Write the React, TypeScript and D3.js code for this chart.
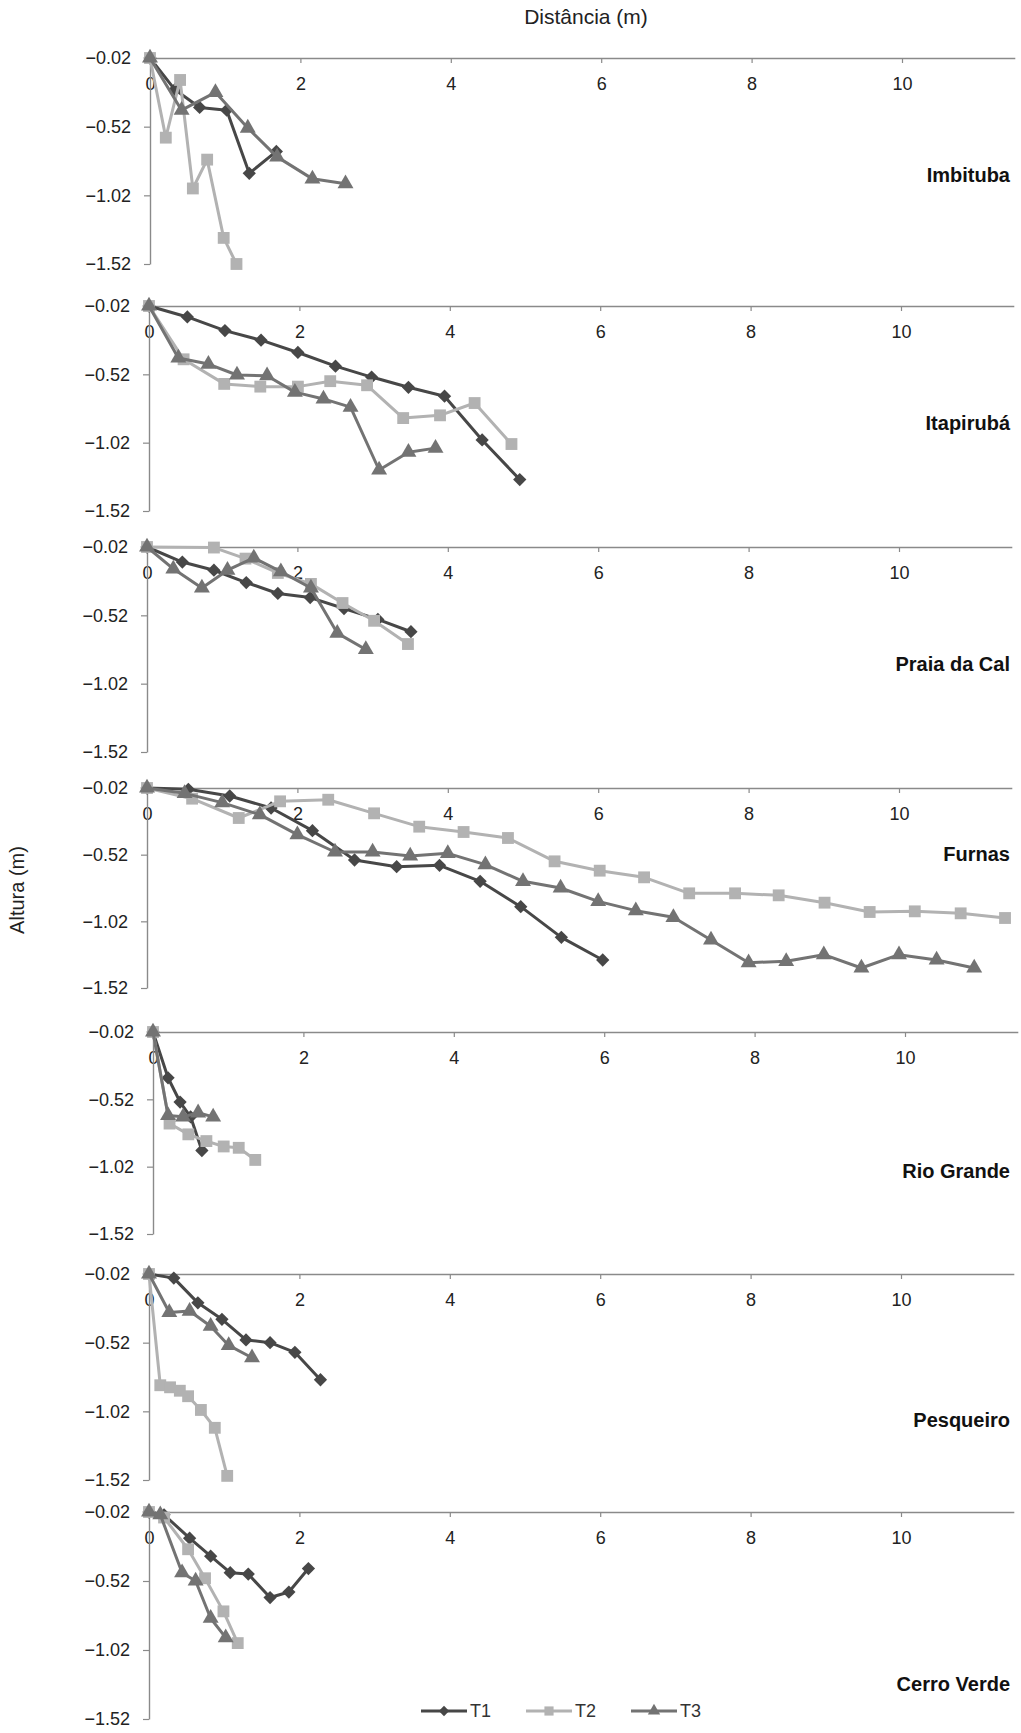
import { useRef, useEffect } from 'react';
import * as d3 from 'd3';

type Pt = [number, number];

const sites = ["Imbituba", "Itapirubá", "Praia da Cal", "Furnas", "Rio Grande", "Pesqueiro", "Cerro Verde"];
const seriesNames = ["T1", "T2", "T3"];
const xTicks = [0, 2, 4, 6, 8, 10];
const yTicks = [-0.02, -0.52, -1.02, -1.52];

// [distância, altura]
const imbitubaT1: Pt[] = [[0, -0.02], [0.33, -0.25], [0.66, -0.38], [1.02, -0.4], [1.32, -0.86], [1.68, -0.7]];
const imbitubaT2: Pt[] = [[0, -0.02], [0.21, -0.6], [0.4, -0.18], [0.57, -0.97], [0.76, -0.76], [0.98, -1.33], [1.15, -1.52]];
const imbitubaT3: Pt[] = [[0, -0.02], [0.42, -0.4], [0.87, -0.27], [1.3, -0.53], [1.69, -0.74], [2.16, -0.9], [2.6, -0.935]];

const itapirubaT1: Pt[] = [[0, -0.02], [0.51, -0.1], [1.01, -0.2], [1.49, -0.27], [1.98, -0.36], [2.48, -0.46], [2.96, -0.54], [3.45, -0.615], [3.93, -0.68], [4.43, -1.0], [4.93, -1.29]];
const itapirubaT2: Pt[] = [[0, -0.02], [0.46, -0.41], [1.0, -0.59], [1.48, -0.61], [1.98, -0.61], [2.41, -0.57], [2.9, -0.6], [3.38, -0.84], [3.87, -0.82], [4.33, -0.73], [4.82, -1.03]];
const itapirubaT3: Pt[] = [[0, -0.02], [0.39, -0.4], [0.79, -0.445], [1.17, -0.525], [1.57, -0.53], [1.94, -0.65], [2.32, -0.7], [2.68, -0.76], [3.06, -1.22], [3.45, -1.09], [3.81, -1.06]];

const praiaT1: Pt[] = [[0, -0.02], [0.47, -0.13], [0.89, -0.19], [1.32, -0.28], [1.74, -0.36], [2.17, -0.39], [2.62, -0.47], [3.07, -0.55], [3.51, -0.64]];
const praiaT2: Pt[] = [[0, -0.02], [0.89, -0.024], [1.31, -0.105], [1.74, -0.21], [2.18, -0.29], [2.6, -0.43], [3.02, -0.56], [3.47, -0.73]];
const praiaT3: Pt[] = [[0, -0.02], [0.35, -0.18], [0.73, -0.32], [1.07, -0.19], [1.42, -0.1], [1.78, -0.2], [2.18, -0.32], [2.53, -0.65], [2.91, -0.77]];

const furnasT1: Pt[] = [[0, -0.02], [0.55, -0.03], [1.1, -0.08], [1.65, -0.17], [2.2, -0.34], [2.76, -0.56], [3.32, -0.61], [3.89, -0.6], [4.43, -0.72], [4.97, -0.91], [5.51, -1.14], [6.06, -1.31]];
const furnasT2: Pt[] = [[0, -0.02], [0.6, -0.1], [1.22, -0.245], [1.77, -0.12], [2.41, -0.108], [3.02, -0.21], [3.62, -0.31], [4.21, -0.35], [4.8, -0.395], [5.42, -0.57], [6.02, -0.64], [6.61, -0.69], [7.21, -0.81], [7.82, -0.81], [8.4, -0.825], [9.01, -0.88], [9.61, -0.95], [10.21, -0.945], [10.82, -0.96], [11.41, -0.995]];
const furnasT3: Pt[] = [[0, -0.02], [0.5, -0.06], [1.0, -0.13], [1.5, -0.22], [2.0, -0.37], [2.5, -0.5], [3.0, -0.5], [3.5, -0.53], [4.0, -0.51], [4.5, -0.595], [5.0, -0.72], [5.5, -0.77], [6.0, -0.87], [6.5, -0.94], [7.0, -0.99], [7.5, -1.16], [8.0, -1.33], [8.5, -1.32], [9.0, -1.27], [9.5, -1.37], [10.0, -1.27], [10.5, -1.31], [11.0, -1.37]];

const rioGrandeT1: Pt[] = [[0, -0.02], [0.2, -0.36], [0.36, -0.54], [0.5, -0.65], [0.65, -0.9]];
const rioGrandeT2: Pt[] = [[0, -0.02], [0.22, -0.7], [0.47, -0.78], [0.71, -0.83], [0.94, -0.87], [1.14, -0.88], [1.36, -0.97]];
const rioGrandeT3: Pt[] = [[0, -0.02], [0.2, -0.64], [0.4, -0.65], [0.6, -0.62], [0.8, -0.65]];

const pesqueiroT1: Pt[] = [[0, -0.02], [0.33, -0.05], [0.65, -0.23], [0.97, -0.35], [1.29, -0.5], [1.61, -0.52], [1.94, -0.59], [2.28, -0.79]];
const pesqueiroT2: Pt[] = [[0, -0.02], [0.15, -0.83], [0.28, -0.845], [0.41, -0.87], [0.52, -0.91], [0.69, -1.01], [0.875, -1.14], [1.04, -1.49]];
const pesqueiroT3: Pt[] = [[0, -0.02], [0.27, -0.3], [0.54, -0.29], [0.82, -0.4], [1.06, -0.54], [1.37, -0.63]];

const cerroVerdeT1: Pt[] = [[0, -0.02], [0.2, -0.04], [0.54, -0.21], [0.82, -0.34], [1.08, -0.46], [1.32, -0.47], [1.61, -0.64], [1.86, -0.6], [2.12, -0.43]];
const cerroVerdeT2: Pt[] = [[0, -0.02], [0.2, -0.06], [0.52, -0.29], [0.745, -0.5], [0.99, -0.74], [1.18, -0.97]];
const cerroVerdeT3: Pt[] = [[0, -0.02], [0.15, -0.04], [0.44, -0.46], [0.62, -0.52], [0.82, -0.79], [1.02, -0.93]];

const siteSeries = [
  [imbitubaT1, imbitubaT2, imbitubaT3],
  [itapirubaT1, itapirubaT2, itapirubaT3],
  [praiaT1, praiaT2, praiaT3],
  [furnasT1, furnasT2, furnasT3],
  [rioGrandeT1, rioGrandeT2, rioGrandeT3],
  [pesqueiroT1, pesqueiroT2, pesqueiroT3],
  [cerroVerdeT1, cerroVerdeT2, cerroVerdeT3],
];

// panel layout (pixels)
const panelLeft = [150, 149, 147, 147, 153, 149, 149];
const panelTop = [58, 306, 547, 788, 1032, 1274, 1512];
const panelBottom = [264, 511, 752, 988, 1234, 1480, 1719];
const labelOffset = [117, 117, 117, 66, 139, 146, 172];

const colors = ["#474747", "#b2b2b2", "#737373"];
const shapes = [d3.symbolSquare, d3.symbolSquare, d3.symbolTriangle];
const shapeSize = [88, 140, 110];
const shapeRotate = [45, 0, 0];
const font = "'Liberation Sans', Arial, sans-serif";

export default function App() {
  const svgRef = useRef<SVGSVGElement | null>(null);

  useEffect(() => {
    const width = 1021, height = 1733;
    const pxPerUnit = 75.2;
    const xMax = 11.5;

    const svg = d3.select(svgRef.current)
      .attr('width', width)
      .attr('height', height);
    svg.selectAll('*').remove();

    svg.append('rect').attr('width', width).attr('height', height).attr('fill', '#fff');

    sites.forEach((site, i) => {
      const left = panelLeft[i];
      const x = d3.scaleLinear().domain([0, xMax]).range([left, left + xMax * pxPerUnit]);
      const y = d3.scaleLinear().domain([-0.02, -1.52]).range([panelTop[i], panelBottom[i]]);
      const g = svg.append('g');

      // x axis along the top (-0.02)
      const xAxis = g.append('g')
        .attr('transform', `translate(0, ${y(-0.02)})`)
        .call(d3.axisBottom(x).tickValues(xTicks).tickSizeInner(5).tickSizeOuter(0).tickPadding(14).tickFormat(d3.format('d')));

      // y axis
      const yAxis = g.append('g')
        .attr('transform', `translate(${left}, 0)`)
        .call(d3.axisLeft(y).tickValues(yTicks).tickSizeInner(6).tickSizeOuter(0).tickPadding(13).tickFormat(d3.format('.2f')));

      [xAxis, yAxis].forEach(ax => {
        ax.select('.domain').attr('stroke', '#8a8a8a').attr('stroke-width', 1.4);
        ax.selectAll('.tick line').attr('stroke', '#8a8a8a').attr('stroke-width', 1.2);
        ax.selectAll('.tick text')
          .attr('fill', '#222')
          .style('font-family', font)
          .style('font-size', '18px');
      });

      // series
      siteSeries[i].forEach((pts, s) => {
        const line = d3.line<Pt>().x(d => x(d[0])).y(d => y(d[1]));
        g.append('path')
          .datum(pts)
          .attr('d', line)
          .attr('fill', 'none')
          .attr('stroke', colors[s])
          .attr('stroke-width', 3)
          .attr('stroke-linejoin', 'round');

        g.selectAll(null)
          .data(pts)
          .enter()
          .append('path')
          .attr('d', d3.symbol(shapes[s], shapeSize[s])())
          .attr('transform', d => `translate(${x(d[0])},${y(d[1])}) rotate(${shapeRotate[s]})`)
          .attr('fill', colors[s]);
      });

      // site name
      g.append('text')
        .attr('x', 1010)
        .attr('y', panelTop[i] + labelOffset[i])
        .attr('text-anchor', 'end')
        .attr('dominant-baseline', 'central')
        .style('font-family', font)
        .style('font-size', '20px')
        .style('font-weight', 'bold')
        .attr('fill', '#111')
        .text(site);
    });

    // axis titles
    svg.append('text')
      .attr('x', 586).attr('y', 16)
      .attr('text-anchor', 'middle')
      .attr('dominant-baseline', 'central')
      .style('font-family', font).style('font-size', '21px')
      .attr('fill', '#222')
      .text('Distância (m)');

    svg.append('text')
      .attr('transform', 'translate(17, 890) rotate(-90)')
      .attr('text-anchor', 'middle')
      .attr('dominant-baseline', 'central')
      .style('font-family', font).style('font-size', '20px')
      .attr('fill', '#222')
      .text('Altura (m)');

    // legend
    const legend = svg.append('g').attr('transform', 'translate(421, 1711)');
    seriesNames.forEach((name, s) => {
      const lg = legend.append('g').attr('transform', `translate(${s * 105}, 0)`);
      lg.append('line').attr('x1', 0).attr('x2', 46).attr('y1', 0).attr('y2', 0)
        .attr('stroke', colors[s]).attr('stroke-width', 3);
      lg.append('path')
        .attr('d', d3.symbol(shapes[s], shapeSize[s] * 0.6)())
        .attr('transform', `translate(23,0) rotate(${shapeRotate[s]})`)
        .attr('fill', colors[s]);
      lg.append('text')
        .attr('x', 49).attr('y', 0)
        .attr('dominant-baseline', 'central')
        .style('font-family', font).style('font-size', '18px')
        .attr('fill', '#333')
        .text(name);
    });
  }, []);

  return (
    <svg ref={svgRef} style={{ position: 'absolute', left: 0, top: 0, display: 'block' }} />
  );
}
